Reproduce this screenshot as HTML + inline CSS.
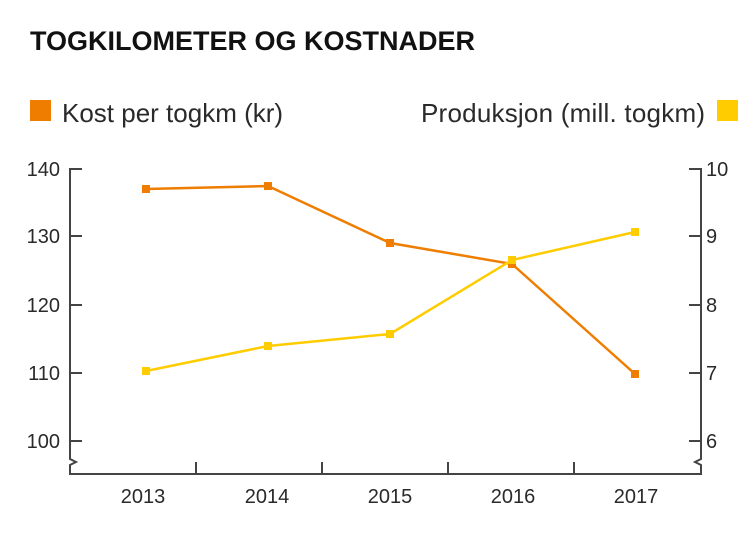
<!DOCTYPE html>
<html><head><style>
body{margin:0;background:#fff;}
svg text{font-family:"Liberation Sans",sans-serif;fill:#2a2a2a;}
</style></head><body>
<svg width="746" height="531" viewBox="0 0 746 531" xmlns="http://www.w3.org/2000/svg">
<rect width="746" height="531" fill="#fff"/>
<text x="30" y="50" font-size="27" font-weight="bold" fill="#111" style="fill:#111">TOGKILOMETER OG KOSTNADER</text>
<rect x="30" y="100" width="21" height="21" fill="#ee7d00"/>
<text x="62" y="122" font-size="26">Kost per togkm (kr)</text>
<text x="421" y="122" font-size="26" textLength="284">Produksjon (mill. togkm)</text>
<rect x="717" y="100" width="21" height="21" fill="#ffcc00"/>
<g stroke="#444" stroke-width="2" fill="none">
<path d="M70 168 V459 L76 462 L70 465 V474 H701 V465 L695 462 L701 459 V168"/>
<path d="M70 169H82M70 236H82M70 305H82M70 373H82M70 441H82"/>
<path d="M689 169H701M689 236H701M689 305H701M689 373H701M689 441H701"/>
<path d="M196 474V462M322 474V462M448 474V462M574 474V462"/>
</g>
<g font-size="20" text-anchor="end">
<text x="60" y="176">140</text><text x="60" y="243">130</text><text x="60" y="312">120</text><text x="60" y="380">110</text><text x="60" y="448">100</text>
</g>
<g font-size="20">
<text x="706" y="176">10</text><text x="706" y="243">9</text><text x="706" y="312">8</text><text x="706" y="380">7</text><text x="706" y="448">6</text>
</g>
<g font-size="20" text-anchor="middle">
<text x="143" y="503">2013</text><text x="267" y="503">2014</text><text x="390" y="503">2015</text><text x="513" y="503">2016</text><text x="636" y="503">2017</text>
</g>
<polyline points="146,189 268,186 390,243 512,264 635,374" fill="none" stroke="#ee7d00" stroke-width="2.5"/>
<g fill="#ee7d00"><rect x="142" y="185" width="8" height="8"/><rect x="264" y="182" width="8" height="8"/><rect x="386" y="239" width="8" height="8"/><rect x="508" y="260" width="8" height="8"/><rect x="631" y="370" width="8" height="8"/></g>
<polyline points="146,371 268,346 390,334 512,260 635,232" fill="none" stroke="#ffcc00" stroke-width="2.5"/>
<g fill="#ffcc00"><rect x="142" y="367" width="8" height="8"/><rect x="264" y="342" width="8" height="8"/><rect x="386" y="330" width="8" height="8"/><rect x="508" y="256" width="8" height="8"/><rect x="631" y="228" width="8" height="8"/></g>
</svg>
</body></html>
